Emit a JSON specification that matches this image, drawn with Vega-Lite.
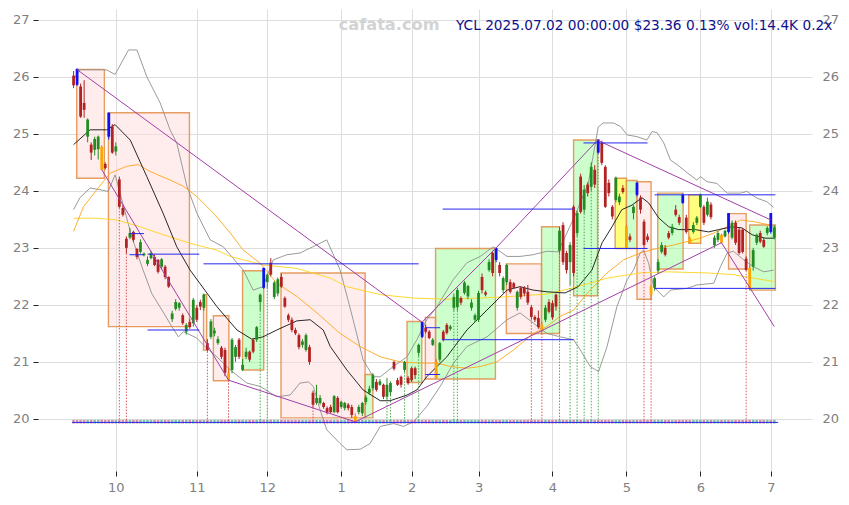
{
"$schema":"https://vega.github.io/schema/vega-lite/v6.json",
"width":774,"height":462,
"autosize":{"type":"none"},
"padding":{"left":38,"top":9,"right":37,"bottom":34},
"config":{"view":{"stroke":null},"font":"DejaVu Sans","scale":{"continuousPadding":0}},
"datasets":{
"candles":[
{"i":0,"k":"down","o":26.02,"c":25.85,"h":26.10,"l":25.80},
{"i":1,"k":"hi","o":26.14,"c":25.86,"h":26.14,"l":25.84},
{"i":2,"k":"down","o":25.83,"c":25.30,"h":25.88,"l":25.28},
{"i":3,"k":"down","o":25.54,"c":25.42,"h":25.94,"l":25.28},
{"i":4,"k":"up","o":24.95,"c":25.25,"h":25.27,"l":24.85},
{"i":5,"k":"down","o":24.81,"c":24.67,"h":24.85,"l":24.54},
{"i":6,"k":"up","o":24.72,"c":24.91,"h":24.95,"l":24.62},
{"i":7,"k":"up","o":24.73,"c":24.95,"h":24.97,"l":24.55},
{"i":8,"k":"lo","o":24.77,"c":24.37,"h":24.80,"l":24.37},
{"i":9,"k":"down","o":24.47,"c":24.40,"h":24.50,"l":24.37},
{"i":10,"k":"hi","o":25.37,"c":24.95,"h":25.37,"l":24.90},
{"i":11,"k":"down","o":25.13,"c":24.67,"h":25.17,"l":24.65},
{"i":12,"k":"up","o":24.69,"c":24.78,"h":24.85,"l":24.62},
{"i":13,"k":"down","o":24.20,"c":23.72,"h":24.25,"l":23.70},
{"i":14,"k":"down","o":23.70,"c":23.58,"h":23.75,"l":23.55},
{"i":15,"k":"down","o":23.16,"c":23.00,"h":23.20,"l":22.90},
{"i":16,"k":"up","o":23.18,"c":23.26,"h":23.35,"l":23.15},
{"i":17,"k":"down","o":23.28,"c":23.14,"h":23.30,"l":23.10},
{"i":18,"k":"down","o":22.98,"c":22.84,"h":23.00,"l":22.80},
{"i":19,"k":"up","o":22.93,"c":23.10,"h":23.15,"l":22.90},
{"i":20,"k":"up","o":22.87,"c":22.90,"h":22.92,"l":22.85},
{"i":21,"k":"up","o":22.72,"c":22.79,"h":22.85,"l":22.68},
{"i":22,"k":"up","o":22.82,"c":22.91,"h":22.95,"l":22.80},
{"i":23,"k":"down","o":22.84,"c":22.70,"h":22.88,"l":22.68},
{"i":24,"k":"down","o":22.79,"c":22.58,"h":22.80,"l":22.55},
{"i":25,"k":"up","o":22.67,"c":22.80,"h":22.82,"l":22.62},
{"i":26,"k":"down","o":22.67,"c":22.49,"h":22.70,"l":22.45},
{"i":27,"k":"down","o":22.49,"c":22.32,"h":22.50,"l":22.30},
{"i":28,"k":"up","o":21.75,"c":21.85,"h":21.90,"l":21.70},
{"i":29,"k":"up","o":21.93,"c":22.05,"h":22.10,"l":21.90},
{"i":30,"k":"up","o":21.95,"c":22.03,"h":22.05,"l":21.90},
{"i":31,"k":"down","o":21.82,"c":21.68,"h":21.85,"l":21.65},
{"i":32,"k":"up","o":21.53,"c":21.65,"h":21.68,"l":21.48},
{"i":33,"k":"down","o":21.70,"c":21.61,"h":21.75,"l":21.58},
{"i":34,"k":"up","o":21.68,"c":22.09,"h":22.12,"l":21.62},
{"i":35,"k":"down","o":21.95,"c":21.74,"h":22.00,"l":21.70},
{"i":36,"k":"down","o":22.05,"c":21.97,"h":22.09,"l":21.91},
{"i":37,"k":"up","o":21.95,"c":22.18,"h":22.20,"l":21.90},
{"i":38,"k":"down","o":21.33,"c":21.21,"h":21.40,"l":21.18},
{"i":39,"k":"up","o":21.44,"c":21.71,"h":21.75,"l":21.40},
{"i":40,"k":"up","o":21.50,"c":21.55,"h":21.60,"l":21.45},
{"i":41,"k":"up","o":21.33,"c":21.40,"h":21.45,"l":21.30},
{"i":42,"k":"down","o":21.25,"c":21.09,"h":21.28,"l":21.05},
{"i":43,"k":"down","o":21.21,"c":20.81,"h":21.25,"l":20.75},
{"i":44,"k":"lo","o":20.81,"c":20.68,"h":20.90,"l":20.68},
{"i":45,"k":"up","o":20.86,"c":21.39,"h":21.42,"l":20.80},
{"i":46,"k":"up","o":21.09,"c":21.26,"h":21.30,"l":21.00},
{"i":47,"k":"down","o":21.39,"c":21.09,"h":21.42,"l":21.05},
{"i":48,"k":"up","o":20.86,"c":20.95,"h":21.05,"l":20.84},
{"i":49,"k":"up","o":21.09,"c":21.18,"h":21.25,"l":21.05},
{"i":50,"k":"down","o":21.18,"c":21.04,"h":21.20,"l":21.00},
{"i":51,"k":"down","o":21.39,"c":21.18,"h":21.42,"l":21.15},
{"i":52,"k":"up","o":21.39,"c":21.61,"h":21.63,"l":21.35},
{"i":53,"k":"up","o":22.05,"c":22.18,"h":22.20,"l":21.90},
{"i":54,"k":"hi","o":22.65,"c":22.30,"h":22.65,"l":22.28},
{"i":55,"k":"up","o":22.40,"c":22.53,"h":22.55,"l":22.30},
{"i":56,"k":"down","o":22.74,"c":22.53,"h":22.82,"l":22.50},
{"i":57,"k":"up","o":22.14,"c":22.39,"h":22.42,"l":22.10},
{"i":58,"k":"up","o":22.20,"c":22.45,"h":22.48,"l":22.15},
{"i":59,"k":"down","o":22.49,"c":22.32,"h":22.55,"l":22.30},
{"i":60,"k":"down","o":22.12,"c":21.97,"h":22.15,"l":21.95},
{"i":61,"k":"down","o":21.82,"c":21.74,"h":21.85,"l":21.70},
{"i":62,"k":"down","o":21.74,"c":21.56,"h":21.78,"l":21.52},
{"i":63,"k":"down","o":21.56,"c":21.50,"h":21.60,"l":21.47},
{"i":64,"k":"down","o":21.47,"c":21.26,"h":21.50,"l":21.22},
{"i":65,"k":"up","o":21.30,"c":21.36,"h":21.40,"l":21.25},
{"i":66,"k":"up","o":21.21,"c":21.47,"h":21.50,"l":21.18},
{"i":67,"k":"down","o":21.26,"c":21.00,"h":21.30,"l":20.95},
{"i":68,"k":"down","o":20.46,"c":20.25,"h":20.50,"l":20.20},
{"i":69,"k":"up","o":20.28,"c":20.37,"h":20.60,"l":20.25},
{"i":70,"k":"up","o":20.28,"c":20.37,"h":20.42,"l":20.25},
{"i":71,"k":"down","o":20.28,"c":20.21,"h":20.30,"l":20.18},
{"i":72,"k":"down","o":20.19,"c":20.11,"h":20.22,"l":20.08},
{"i":73,"k":"down","o":20.21,"c":20.12,"h":20.25,"l":20.10},
{"i":74,"k":"up","o":20.12,"c":20.40,"h":20.42,"l":20.10},
{"i":75,"k":"down","o":20.37,"c":20.12,"h":20.40,"l":20.10},
{"i":76,"k":"up","o":20.21,"c":20.30,"h":20.32,"l":20.18},
{"i":77,"k":"up","o":20.19,"c":20.28,"h":20.30,"l":20.15},
{"i":78,"k":"down","o":20.25,"c":20.19,"h":20.28,"l":20.15},
{"i":79,"k":"down","o":20.21,"c":20.07,"h":20.25,"l":20.02},
{"i":80,"k":"lo","o":20.05,"c":19.95,"h":20.10,"l":19.95},
{"i":81,"k":"up","o":20.12,"c":20.21,"h":20.25,"l":20.08},
{"i":82,"k":"up","o":20.10,"c":20.28,"h":20.30,"l":20.05},
{"i":83,"k":"up","o":20.30,"c":20.38,"h":20.42,"l":20.25},
{"i":84,"k":"up","o":20.46,"c":20.53,"h":20.58,"l":20.42},
{"i":85,"k":"up","o":20.54,"c":20.77,"h":20.80,"l":20.50},
{"i":86,"k":"down","o":20.65,"c":20.51,"h":20.70,"l":20.48},
{"i":87,"k":"up","o":20.60,"c":20.66,"h":20.70,"l":20.58},
{"i":88,"k":"down","o":20.60,"c":20.39,"h":20.62,"l":20.35},
{"i":89,"k":"up","o":20.39,"c":20.60,"h":20.72,"l":20.35},
{"i":90,"k":"up","o":20.47,"c":20.63,"h":20.66,"l":20.42},
{"i":91,"k":"down","o":21.00,"c":20.88,"h":21.02,"l":20.85},
{"i":92,"k":"down","o":20.68,"c":20.60,"h":20.72,"l":20.58},
{"i":93,"k":"down","o":20.74,"c":20.60,"h":20.76,"l":20.55},
{"i":94,"k":"up","o":20.86,"c":21.00,"h":21.02,"l":20.82},
{"i":95,"k":"down","o":20.72,"c":20.63,"h":20.75,"l":20.60},
{"i":96,"k":"down","o":20.89,"c":20.68,"h":20.92,"l":20.65},
{"i":97,"k":"down","o":20.89,"c":20.77,"h":20.92,"l":20.70},
{"i":98,"k":"up","o":21.16,"c":21.30,"h":21.32,"l":21.10},
{"i":99,"k":"hi","o":21.70,"c":21.44,"h":21.70,"l":21.42},
{"i":100,"k":"down","o":21.60,"c":21.53,"h":21.65,"l":21.50},
{"i":101,"k":"down","o":21.53,"c":21.42,"h":21.56,"l":21.40},
{"i":102,"k":"up","o":21.30,"c":21.39,"h":21.42,"l":21.28},
{"i":103,"k":"lo","o":21.00,"c":20.72,"h":21.05,"l":20.72},
{"i":104,"k":"up","o":21.04,"c":21.33,"h":21.35,"l":21.00},
{"i":105,"k":"down","o":21.53,"c":21.39,"h":21.56,"l":21.36},
{"i":106,"k":"down","o":21.65,"c":21.51,"h":21.68,"l":21.48},
{"i":107,"k":"up","o":21.58,"c":21.62,"h":21.65,"l":21.55},
{"i":108,"k":"up","o":21.95,"c":22.14,"h":22.20,"l":21.90},
{"i":109,"k":"up","o":21.96,"c":22.26,"h":22.30,"l":21.90},
{"i":110,"k":"down","o":22.12,"c":22.04,"h":22.15,"l":22.00},
{"i":111,"k":"up","o":22.21,"c":22.39,"h":22.42,"l":22.18},
{"i":112,"k":"up","o":22.15,"c":22.33,"h":22.35,"l":22.10},
{"i":113,"k":"up","o":21.95,"c":22.04,"h":22.10,"l":21.90},
{"i":114,"k":"up","o":21.74,"c":21.82,"h":21.85,"l":21.70},
{"i":115,"k":"up","o":21.74,"c":22.21,"h":22.25,"l":21.70},
{"i":116,"k":"down","o":22.49,"c":22.26,"h":22.55,"l":22.20},
{"i":117,"k":"down","o":22.22,"c":22.18,"h":22.25,"l":22.15},
{"i":118,"k":"up","o":22.61,"c":22.75,"h":22.80,"l":22.58},
{"i":119,"k":"down","o":22.91,"c":22.56,"h":22.95,"l":22.50},
{"i":120,"k":"hi","o":23.00,"c":22.79,"h":23.00,"l":22.75},
{"i":121,"k":"down","o":22.70,"c":22.56,"h":22.75,"l":22.50},
{"i":122,"k":"up","o":22.26,"c":22.47,"h":22.50,"l":22.20},
{"i":123,"k":"up","o":22.40,"c":22.70,"h":22.72,"l":22.35},
{"i":124,"k":"down","o":22.40,"c":22.23,"h":22.45,"l":22.20},
{"i":125,"k":"down","o":22.38,"c":22.30,"h":22.40,"l":22.28},
{"i":126,"k":"up","o":21.95,"c":22.23,"h":22.25,"l":21.90},
{"i":127,"k":"down","o":22.30,"c":22.14,"h":22.32,"l":22.10},
{"i":128,"k":"down","o":22.30,"c":22.20,"h":22.33,"l":22.15},
{"i":129,"k":"down","o":22.23,"c":22.04,"h":22.35,"l":22.00},
{"i":130,"k":"down","o":21.96,"c":21.79,"h":22.00,"l":21.75},
{"i":131,"k":"down","o":21.79,"c":21.74,"h":21.82,"l":21.70},
{"i":132,"k":"down","o":21.77,"c":21.61,"h":21.90,"l":21.58},
{"i":133,"k":"lo","o":21.65,"c":21.56,"h":21.70,"l":21.55},
{"i":134,"k":"up","o":21.74,"c":21.95,"h":22.00,"l":21.70},
{"i":135,"k":"down","o":22.05,"c":21.88,"h":22.10,"l":21.85},
{"i":136,"k":"down","o":22.03,"c":21.78,"h":22.08,"l":21.74},
{"i":137,"k":"down","o":22.18,"c":21.97,"h":22.20,"l":21.90},
{"i":138,"k":"up","o":22.95,"c":23.30,"h":23.37,"l":22.90},
{"i":139,"k":"down","o":23.40,"c":22.75,"h":23.45,"l":22.70},
{"i":140,"k":"down","o":22.91,"c":22.61,"h":22.95,"l":22.55},
{"i":141,"k":"up","o":22.75,"c":23.05,"h":23.10,"l":22.35},
{"i":142,"k":"down","o":23.72,"c":22.56,"h":23.75,"l":22.50},
{"i":143,"k":"up","o":23.26,"c":23.61,"h":23.65,"l":23.20},
{"i":144,"k":"down","o":24.25,"c":23.63,"h":24.30,"l":23.60},
{"i":145,"k":"up","o":23.67,"c":24.02,"h":24.10,"l":23.60},
{"i":146,"k":"down","o":24.11,"c":23.96,"h":24.15,"l":23.90},
{"i":147,"k":"up","o":24.07,"c":24.42,"h":24.50,"l":24.00},
{"i":148,"k":"down","o":24.37,"c":24.11,"h":24.45,"l":24.05},
{"i":149,"k":"hi","o":24.90,"c":24.67,"h":24.90,"l":24.65},
{"i":150,"k":"down","o":24.84,"c":24.49,"h":24.88,"l":24.45},
{"i":151,"k":"down","o":24.42,"c":23.72,"h":24.45,"l":23.70},
{"i":152,"k":"down","o":24.14,"c":23.96,"h":24.20,"l":23.90},
{"i":153,"k":"down","o":23.72,"c":23.55,"h":23.75,"l":23.50},
{"i":154,"k":"up","o":23.84,"c":24.23,"h":24.25,"l":23.80},
{"i":155,"k":"up","o":23.80,"c":23.90,"h":23.95,"l":23.75},
{"i":156,"k":"down","o":24.05,"c":23.98,"h":24.10,"l":23.95},
{"i":157,"k":"lo","o":23.37,"c":23.00,"h":23.40,"l":23.00},
{"i":158,"k":"down","o":23.20,"c":23.14,"h":23.25,"l":23.10},
{"i":159,"k":"up","o":23.61,"c":23.72,"h":23.75,"l":23.50},
{"i":160,"k":"hi","o":24.14,"c":23.93,"h":24.16,"l":23.90},
{"i":161,"k":"down","o":23.88,"c":23.67,"h":23.92,"l":23.60},
{"i":162,"k":"down","o":23.46,"c":23.05,"h":23.50,"l":23.00},
{"i":163,"k":"down","o":23.20,"c":23.14,"h":23.25,"l":23.10},
{"i":164,"k":"lo","o":22.32,"c":22.18,"h":22.35,"l":22.10},
{"i":165,"k":"up","o":22.30,"c":22.47,"h":22.50,"l":22.25},
{"i":166,"k":"up","o":22.60,"c":22.75,"h":22.80,"l":22.55},
{"i":167,"k":"up","o":22.93,"c":23.05,"h":23.10,"l":22.90},
{"i":168,"k":"down","o":23.00,"c":22.88,"h":23.05,"l":22.85},
{"i":169,"k":"down","o":23.26,"c":23.18,"h":23.30,"l":23.15},
{"i":170,"k":"up","o":23.26,"c":23.37,"h":23.42,"l":23.22},
{"i":171,"k":"down","o":23.67,"c":23.58,"h":23.75,"l":23.55},
{"i":172,"k":"down","o":23.54,"c":23.44,"h":23.58,"l":23.40},
{"i":173,"k":"hi","o":23.93,"c":23.79,"h":23.95,"l":23.77},
{"i":174,"k":"down","o":23.53,"c":23.28,"h":23.58,"l":23.25},
{"i":175,"k":"lo","o":23.17,"c":23.09,"h":23.20,"l":23.08},
{"i":176,"k":"up","o":23.28,"c":23.40,"h":23.45,"l":23.25},
{"i":177,"k":"up","o":23.44,"c":23.53,"h":23.56,"l":23.40},
{"i":178,"k":"up","o":23.72,"c":23.93,"h":23.95,"l":23.70},
{"i":179,"k":"down","o":23.72,"c":23.44,"h":23.75,"l":23.40},
{"i":180,"k":"up","o":23.58,"c":23.81,"h":23.88,"l":23.55},
{"i":181,"k":"down","o":23.76,"c":23.54,"h":23.80,"l":23.50},
{"i":182,"k":"up","o":23.05,"c":23.18,"h":23.22,"l":23.00},
{"i":183,"k":"up","o":23.14,"c":23.26,"h":23.30,"l":23.10},
{"i":184,"k":"lo","o":23.23,"c":23.09,"h":23.25,"l":23.08},
{"i":185,"k":"up","o":23.20,"c":23.30,"h":23.32,"l":23.18},
{"i":186,"k":"hi","o":23.61,"c":23.28,"h":23.61,"l":23.25},
{"i":187,"k":"up","o":23.18,"c":23.44,"h":23.48,"l":23.15},
{"i":188,"k":"down","o":23.44,"c":23.09,"h":23.48,"l":23.05},
{"i":189,"k":"down","o":23.32,"c":22.91,"h":23.35,"l":22.88},
{"i":190,"k":"down","o":23.32,"c":22.93,"h":23.35,"l":22.90},
{"i":191,"k":"down","o":22.81,"c":22.61,"h":22.85,"l":22.60},
{"i":192,"k":"lo","o":22.65,"c":22.28,"h":22.70,"l":22.26},
{"i":193,"k":"up","o":22.67,"c":22.96,"h":23.00,"l":22.60},
{"i":194,"k":"up","o":23.09,"c":23.23,"h":23.25,"l":23.05},
{"i":195,"k":"down","o":23.26,"c":23.11,"h":23.30,"l":23.08},
{"i":196,"k":"down","o":23.14,"c":23.02,"h":23.18,"l":23.00},
{"i":197,"k":"up","o":23.26,"c":23.35,"h":23.38,"l":23.22},
{"i":198,"k":"hi","o":23.61,"c":23.28,"h":23.61,"l":23.25},
{"i":199,"k":"up","o":23.18,"c":23.36,"h":23.40,"l":23.15}
],
"boxes":[
{"i1":0.9,"i2":8.75,"t":26.13,"b":24.22,"k":"down"},
{"i1":9.9,"i2":32.9,"t":25.37,"b":21.62,"k":"down"},
{"i1":36.9,"i2":37.8,"t":22.18,"b":21.21,"k":"down"},
{"i1":39.7,"i2":44.1,"t":21.81,"b":20.67,"k":"down"},
{"i1":48.0,"i2":54.0,"t":22.60,"b":20.86,"k":"up"},
{"i1":58.9,"i2":82.8,"t":22.56,"b":20.02,"k":"down"},
{"i1":82.8,"i2":85.0,"t":20.78,"b":20.02,"k":"up"},
{"i1":94.7,"i2":98.9,"t":21.71,"b":20.64,"k":"up"},
{"i1":99.9,"i2":102.8,"t":21.78,"b":20.70,"k":"down"},
{"i1":102.8,"i2":119.8,"t":22.99,"b":20.70,"k":"up"},
{"i1":122.9,"i2":132.9,"t":22.72,"b":21.50,"k":"down"},
{"i1":132.9,"i2":138.0,"t":23.37,"b":21.50,"k":"up"},
{"i1":142.0,"i2":148.8,"t":24.89,"b":22.16,"k":"up"},
{"i1":153.8,"i2":157.0,"t":24.22,"b":22.99,"k":"flat"},
{"i1":157.0,"i2":160.0,"t":24.18,"b":22.99,"k":"up"},
{"i1":160.0,"i2":164.0,"t":24.16,"b":22.10,"k":"down"},
{"i1":165.9,"i2":173.1,"t":23.96,"b":22.63,"k":"up"},
{"i1":174.7,"i2":178.1,"t":23.93,"b":23.08,"k":"flat"},
{"i1":186.0,"i2":191.0,"t":23.60,"b":22.63,"k":"down"},
{"i1":192.0,"i2":199.3,"t":23.40,"b":22.26,"k":"up"}
],
"ind":[
{"s":"bbu","i":0,"v":25.95},{"s":"bbu","i":1.8,"v":26.12},{"s":"bbu","i":9.4,"v":26.12},{"s":"bbu","i":11.8,"v":26.04},{"s":"bbu","i":15.6,"v":26.47},{"s":"bbu","i":18.0,"v":26.47},{"s":"bbu","i":20.8,"v":26.0},{"s":"bbu","i":24.6,"v":25.54},{"s":"bbu","i":27.4,"v":25.07},{"s":"bbu","i":29.3,"v":24.84},{"s":"bbu","i":32.2,"v":24.08},{"s":"bbu","i":35.0,"v":23.61},{"s":"bbu","i":38.8,"v":23.14},{"s":"bbu","i":42.5,"v":23.02},{"s":"bbu","i":48.2,"v":22.61},{"s":"bbu","i":51.0,"v":22.26},{"s":"bbu","i":53.8,"v":22.32},{"s":"bbu","i":56.7,"v":22.79},{"s":"bbu","i":60.6,"v":22.88},{"s":"bbu","i":64.3,"v":22.91},{"s":"bbu","i":68.0,"v":23.02},{"s":"bbu","i":71.9,"v":23.14},{"s":"bbu","i":75.7,"v":22.61},{"s":"bbu","i":79.4,"v":21.74},{"s":"bbu","i":82.2,"v":21.04},{"s":"bbu","i":85.1,"v":20.74},{"s":"bbu","i":87.1,"v":20.74},{"s":"bbu","i":90.8,"v":20.92},{"s":"bbu","i":94.7,"v":21.09},{"s":"bbu","i":97.5,"v":21.39},{"s":"bbu","i":100.3,"v":21.74},{"s":"bbu","i":103.2,"v":21.97},{"s":"bbu","i":107.8,"v":22.44},{"s":"bbu","i":111.7,"v":22.74},{"s":"bbu","i":115.5,"v":22.85},{"s":"bbu","i":119.2,"v":23.02},{"s":"bbu","i":123.1,"v":22.85},{"s":"bbu","i":126.8,"v":22.85},{"s":"bbu","i":130.5,"v":22.88},{"s":"bbu","i":134.4,"v":22.94},{"s":"bbu","i":137.6,"v":22.93},{"s":"bbu","i":142.5,"v":23.58},{"s":"bbu","i":146.2,"v":24.14},{"s":"bbu","i":149.0,"v":25.12},{"s":"bbu","i":150.4,"v":25.19},{"s":"bbu","i":153.3,"v":25.19},{"s":"bbu","i":155.3,"v":25.13},{"s":"bbu","i":157.2,"v":24.98},{"s":"bbu","i":160.0,"v":24.95},{"s":"bbu","i":162.8,"v":24.89},{"s":"bbu","i":164.3,"v":25.04},{"s":"bbu","i":165.7,"v":25.02},{"s":"bbu","i":167.6,"v":24.84},{"s":"bbu","i":169.5,"v":24.54},{"s":"bbu","i":171.4,"v":24.46},{"s":"bbu","i":174.2,"v":24.32},{"s":"bbu","i":177.0,"v":24.19},{"s":"bbu","i":178.0,"v":24.25},{"s":"bbu","i":179.9,"v":24.16},{"s":"bbu","i":182.7,"v":24.13},{"s":"bbu","i":185.6,"v":23.96},{"s":"bbu","i":189.4,"v":23.96},{"s":"bbu","i":191.2,"v":23.99},{"s":"bbu","i":194.1,"v":23.87},{"s":"bbu","i":196.9,"v":23.81},{"s":"bbu","i":198.8,"v":23.71},
{"s":"bbl","i":0,"v":23.67},{"s":"bbl","i":1.8,"v":23.88},{"s":"bbl","i":4.7,"v":24.05},{"s":"bbl","i":7.5,"v":24.02},{"s":"bbl","i":9.8,"v":23.99},{"s":"bbl","i":11.8,"v":24.28},{"s":"bbl","i":13.2,"v":23.96},{"s":"bbl","i":16.5,"v":23.2},{"s":"bbl","i":19.4,"v":22.67},{"s":"bbl","i":22.2,"v":22.2},{"s":"bbl","i":25.1,"v":21.91},{"s":"bbl","i":27.9,"v":21.62},{"s":"bbl","i":29.8,"v":21.44},{"s":"bbl","i":31.2,"v":21.53},{"s":"bbl","i":35.0,"v":21.42},{"s":"bbl","i":37.8,"v":21.24},{"s":"bbl","i":40.7,"v":21.09},{"s":"bbl","i":44.5,"v":20.86},{"s":"bbl","i":49.2,"v":20.63},{"s":"bbl","i":53.0,"v":20.57},{"s":"bbl","i":57.7,"v":20.39},{"s":"bbl","i":61.5,"v":20.42},{"s":"bbl","i":64.3,"v":20.63},{"s":"bbl","i":66.7,"v":20.65},{"s":"bbl","i":68.1,"v":20.57},{"s":"bbl","i":70.0,"v":20.16},{"s":"bbl","i":71.9,"v":19.81},{"s":"bbl","i":75.7,"v":19.57},{"s":"bbl","i":77.6,"v":19.46},{"s":"bbl","i":81.4,"v":19.47},{"s":"bbl","i":84.2,"v":19.57},{"s":"bbl","i":87.1,"v":19.87},{"s":"bbl","i":90.9,"v":19.92},{"s":"bbl","i":93.7,"v":19.87},{"s":"bbl","i":96.5,"v":19.95},{"s":"bbl","i":100.3,"v":20.22},{"s":"bbl","i":104.1,"v":20.57},{"s":"bbl","i":107.9,"v":20.98},{"s":"bbl","i":111.7,"v":21.27},{"s":"bbl","i":117.4,"v":21.44},{"s":"bbl","i":123.1,"v":21.74},{"s":"bbl","i":126.8,"v":21.86},{"s":"bbl","i":130.6,"v":21.68},{"s":"bbl","i":134.4,"v":21.5},{"s":"bbl","i":138.2,"v":21.44},{"s":"bbl","i":142.0,"v":21.39},{"s":"bbl","i":143.9,"v":21.21},{"s":"bbl","i":146.7,"v":20.92},{"s":"bbl","i":149.1,"v":20.83},{"s":"bbl","i":151.5,"v":21.27},{"s":"bbl","i":154.3,"v":21.97},{"s":"bbl","i":157.2,"v":22.44},{"s":"bbl","i":159.0,"v":22.61},{"s":"bbl","i":160.9,"v":22.91},{"s":"bbl","i":161.9,"v":22.96},{"s":"bbl","i":163.3,"v":22.73},{"s":"bbl","i":164.7,"v":22.32},{"s":"bbl","i":167.6,"v":22.14},{"s":"bbl","i":169.5,"v":22.26},{"s":"bbl","i":174.2,"v":22.29},{"s":"bbl","i":177.0,"v":22.35},{"s":"bbl","i":181.8,"v":22.38},{"s":"bbl","i":183.7,"v":22.67},{"s":"bbl","i":185.6,"v":22.91},{"s":"bbl","i":187.4,"v":22.94},{"s":"bbl","i":190.3,"v":22.79},{"s":"bbl","i":193.1,"v":22.67},{"s":"bbl","i":196.0,"v":22.58},{"s":"bbl","i":198.8,"v":22.61},
{"s":"ma100","i":0,"v":23.52},{"s":"ma100","i":6.6,"v":23.52},{"s":"ma100","i":12.3,"v":23.49},{"s":"ma100","i":18.9,"v":23.37},{"s":"ma100","i":25.5,"v":23.23},{"s":"ma100","i":33.1,"v":23.08},{"s":"ma100","i":40.7,"v":22.96},{"s":"ma100","i":44.5,"v":22.85},{"s":"ma100","i":53.9,"v":22.7},{"s":"ma100","i":63.4,"v":22.64},{"s":"ma100","i":72.9,"v":22.47},{"s":"ma100","i":77.6,"v":22.32},{"s":"ma100","i":87.1,"v":22.18},{"s":"ma100","i":96.5,"v":22.12},{"s":"ma100","i":106.0,"v":22.1},{"s":"ma100","i":115.5,"v":22.12},{"s":"ma100","i":124.9,"v":22.15},{"s":"ma100","i":134.4,"v":22.19},{"s":"ma100","i":142.0,"v":22.3},{"s":"ma100","i":151.5,"v":22.47},{"s":"ma100","i":160.9,"v":22.56},{"s":"ma100","i":168.5,"v":22.58},{"s":"ma100","i":179.9,"v":22.56},{"s":"ma100","i":187.4,"v":22.53},{"s":"ma100","i":193.1,"v":22.47},{"s":"ma100","i":198.8,"v":22.41},
{"s":"ma50","i":0,"v":23.29},{"s":"ma50","i":2.8,"v":23.72},{"s":"ma50","i":6.6,"v":24.02},{"s":"ma50","i":10.4,"v":24.31},{"s":"ma50","i":15.1,"v":24.43},{"s":"ma50","i":18.4,"v":24.46},{"s":"ma50","i":21.7,"v":24.34},{"s":"ma50","i":27.4,"v":24.19},{"s":"ma50","i":31.2,"v":24.08},{"s":"ma50","i":35.0,"v":23.9},{"s":"ma50","i":39.7,"v":23.61},{"s":"ma50","i":44.5,"v":23.26},{"s":"ma50","i":48.2,"v":22.96},{"s":"ma50","i":53.0,"v":22.73},{"s":"ma50","i":57.7,"v":22.38},{"s":"ma50","i":63.4,"v":22.15},{"s":"ma50","i":69.1,"v":21.86},{"s":"ma50","i":75.7,"v":21.5},{"s":"ma50","i":81.4,"v":21.27},{"s":"ma50","i":87.1,"v":21.09},{"s":"ma50","i":92.8,"v":21.0},{"s":"ma50","i":98.4,"v":20.98},{"s":"ma50","i":103.2,"v":20.98},{"s":"ma50","i":107.0,"v":20.92},{"s":"ma50","i":111.7,"v":20.89},{"s":"ma50","i":115.5,"v":20.92},{"s":"ma50","i":120.2,"v":21.0},{"s":"ma50","i":124.9,"v":21.21},{"s":"ma50","i":130.6,"v":21.5},{"s":"ma50","i":134.4,"v":21.62},{"s":"ma50","i":138.2,"v":21.8},{"s":"ma50","i":142.0,"v":21.91},{"s":"ma50","i":146.7,"v":22.26},{"s":"ma50","i":151.5,"v":22.56},{"s":"ma50","i":156.2,"v":22.79},{"s":"ma50","i":160.9,"v":22.91},{"s":"ma50","i":165.7,"v":22.99},{"s":"ma50","i":170.4,"v":23.05},{"s":"ma50","i":178.0,"v":23.17},{"s":"ma50","i":181.8,"v":23.26},{"s":"ma50","i":185.6,"v":23.37},{"s":"ma50","i":189.4,"v":23.49},{"s":"ma50","i":193.1,"v":23.46},{"s":"ma50","i":197.9,"v":23.4},{"s":"ma50","i":198.8,"v":23.37},
{"s":"ma20","i":0,"v":24.81},{"s":"ma20","i":4.7,"v":25.07},{"s":"ma20","i":9.4,"v":25.07},{"s":"ma20","i":11.8,"v":25.16},{"s":"ma20","i":16.1,"v":24.89},{"s":"ma20","i":20.8,"v":24.25},{"s":"ma20","i":25.4,"v":23.61},{"s":"ma20","i":29.3,"v":23.02},{"s":"ma20","i":33.1,"v":22.61},{"s":"ma20","i":40.7,"v":21.97},{"s":"ma20","i":46.4,"v":21.56},{"s":"ma20","i":50.6,"v":21.40},{"s":"ma20","i":53.8,"v":21.44},{"s":"ma20","i":57.7,"v":21.56},{"s":"ma20","i":63.4,"v":21.72},{"s":"ma20","i":67.2,"v":21.74},{"s":"ma20","i":70.9,"v":21.56},{"s":"ma20","i":72.9,"v":21.27},{"s":"ma20","i":77.6,"v":20.86},{"s":"ma20","i":82.2,"v":20.51},{"s":"ma20","i":87.1,"v":20.32},{"s":"ma20","i":89.9,"v":20.32},{"s":"ma20","i":94.7,"v":20.42},{"s":"ma20","i":97.5,"v":20.51},{"s":"ma20","i":100.3,"v":20.74},{"s":"ma20","i":103.2,"v":20.92},{"s":"ma20","i":106.0,"v":21.09},{"s":"ma20","i":111.7,"v":21.56},{"s":"ma20","i":117.4,"v":21.91},{"s":"ma20","i":123.1,"v":22.26},{"s":"ma20","i":126.8,"v":22.32},{"s":"ma20","i":130.5,"v":22.26},{"s":"ma20","i":134.4,"v":22.23},{"s":"ma20","i":139.6,"v":22.21},{"s":"ma20","i":143.3,"v":22.32},{"s":"ma20","i":147.2,"v":22.61},{"s":"ma20","i":150.1,"v":23.09},{"s":"ma20","i":152.9,"v":23.37},{"s":"ma20","i":155.7,"v":23.67},{"s":"ma20","i":158.6,"v":23.75},{"s":"ma20","i":161.4,"v":23.88},{"s":"ma20","i":163.3,"v":23.79},{"s":"ma20","i":166.1,"v":23.53},{"s":"ma20","i":169.0,"v":23.37},{"s":"ma20","i":171.8,"v":23.32},{"s":"ma20","i":176.6,"v":23.32},{"s":"ma20","i":180.3,"v":23.28},{"s":"ma20","i":183.2,"v":23.32},{"s":"ma20","i":187.0,"v":23.37},{"s":"ma20","i":189.8,"v":23.35},{"s":"ma20","i":192.7,"v":23.23},{"s":"ma20","i":196.4,"v":23.17},{"s":"ma20","i":199.0,"v":23.17}
],
"trend":[
{"id":"A","i":0.9,"v":26.13},{"id":"A","i":98.9,"v":21.70},
{"id":"B","i":8,"v":24.37},{"id":"B","i":44,"v":20.68},
{"id":"C","i":44,"v":20.68},{"id":"C","i":80,"v":19.95},
{"id":"F","i":80,"v":19.95},{"id":"F","i":184,"v":23.09},
{"id":"E1","i":99,"v":21.70},{"id":"E1","i":120,"v":23.00},
{"id":"E2","i":120,"v":23.00},{"id":"E2","i":149,"v":24.90},
{"id":"H","i":149,"v":24.88},{"id":"H","i":198,"v":23.49},
{"id":"I","i":184,"v":23.09},{"id":"I","i":199,"v":21.62}
],
"hlines":[
{"i1":15.9,"i2":20.0,"v":23.25},
{"i1":15.9,"i2":20.0,"v":22.88},
{"i1":21.0,"i2":35.7,"v":22.89},
{"i1":21.0,"i2":35.7,"v":21.56},
{"i1":36.9,"i2":98.0,"v":22.72},
{"i1":99.9,"i2":104.1,"v":21.60},
{"i1":99.9,"i2":104.1,"v":20.78},
{"i1":104.6,"i2":142.0,"v":21.39},
{"i1":104.8,"i2":142.0,"v":23.68},
{"i1":144.8,"i2":163.0,"v":24.84},
{"i1":144.8,"i2":163.0,"v":22.99},
{"i1":165.0,"i2":199.3,"v":23.93},
{"i1":165.0,"i2":199.3,"v":22.29},
{"i1":-0.4,"i2":200.1,"v":19.94}
],
"dots":[
{"i":13,"t":23.70,"k":"down"},{"i":15,"t":22.90,"k":"down"},{"i":38,"t":21.18,"k":"down"},{"i":44,"t":20.68,"k":"down"},
{"i":53,"t":21.90,"k":"up"},{"i":55,"t":22.30,"k":"up"},{"i":68,"t":20.20,"k":"down"},{"i":80,"t":19.98,"k":"down"},
{"i":89,"t":20.35,"k":"up"},{"i":90,"t":20.42,"k":"up"},{"i":94,"t":20.82,"k":"up"},{"i":98,"t":21.10,"k":"up"},
{"i":108,"t":21.90,"k":"up"},{"i":109,"t":21.90,"k":"up"},{"i":130,"t":21.75,"k":"down"},{"i":133,"t":21.55,"k":"down"},
{"i":138,"t":22.90,"k":"up"},{"i":141,"t":22.35,"k":"up"},{"i":143,"t":23.20,"k":"up"},{"i":145,"t":23.60,"k":"up"},
{"i":147,"t":24.00,"k":"up"},{"i":149,"t":24.65,"k":"up"},{"i":162,"t":23.00,"k":"down"},{"i":164,"t":22.10,"k":"down"},
{"i":191,"t":22.60,"k":"down"}
]
},
"layer":[
{"data":{"name":"boxes"},
 "mark":{"type":"rect","fillOpacity":0.5,"stroke":"#E39250","strokeWidth":1.4,"strokeOpacity":0.9},
 "encoding":{
  "x":{"field":"i1","type":"quantitative","scale":{"domain":[-10.1,209.7],"nice":false,"zero":false,"padding":0},
   "axis":{"values":[12,35,55,76,96,115,136,157,178,198],
    "labelExpr":"datum.value==12?'10':datum.value==35?'11':datum.value==55?'12':datum.value==76?'1':datum.value==96?'2':datum.value==115?'3':datum.value==136?'4':datum.value==157?'5':datum.value==178?'6':'7'",
    "grid":true,"gridColor":"#DDDDDD","gridWidth":1,"domain":false,"ticks":true,"tickColor":"#222222","tickSize":5,
    "labelColor":"#808080","labelFontSize":13,"labelFont":"DejaVu Sans","labelPadding":5,"title":null}},
  "x2":{"field":"i2"},
  "y":{"field":"t","type":"quantitative","scale":{"domain":[19.088,27.188],"nice":false,"zero":false},
   "axis":{"orient":"left","values":[20,21,22,23,24,25,26,27],"grid":true,"gridColor":"#DDDDDD","gridWidth":1,"domain":false,
    "tickColor":"#222222","tickSize":5,"labelColor":"#808080","labelFontSize":13,"labelFont":"DejaVu Sans","labelPadding":4,"title":null}},
  "y2":{"field":"b"},
  "fill":{"field":"k","type":"nominal","scale":{"domain":["down","up","flat"],"range":["#FFDCDC","#99FF99","#FFFF00"]},"legend":null}
 }},
{"data":{"name":"ind"},
 "mark":{"type":"line","strokeWidth":0.9},
 "encoding":{
  "x":{"field":"i","type":"quantitative","scale":{"domain":[-10.1,209.7],"nice":false,"zero":false,"padding":0},"axis":null},
  "y":{"field":"v","type":"quantitative","scale":{"domain":[19.088,27.188],"nice":false,"zero":false},"axis":null},
  "detail":{"field":"s"},
  "color":{"field":"s","type":"nominal","scale":{"domain":["bbu","bbl","ma100","ma50","ma20"],"range":["#8F8F8F","#8F8F8F","#FFD21A","#FFA51A","#111111"]},"legend":null}
 }},
{"data":{"name":"dots"},
 "mark":{"type":"rule","strokeWidth":1,"strokeDash":[1.5,1.5],"opacity":0.9},
 "encoding":{
  "x":{"field":"i","type":"quantitative","scale":{"domain":[-10.1,209.7],"nice":false,"zero":false,"padding":0},"axis":null},
  "y":{"field":"t","type":"quantitative","scale":{"domain":[19.088,27.188],"nice":false,"zero":false},"axis":null},
  "y2":{"datum":19.95},
  "color":{"field":"k","type":"nominal","scale":{"domain":["down","up"],"range":["#D04848","#3FA03F"]},"legend":null}
 }},
{"data":{"name":"candles"},
 "mark":{"type":"bar","size":2.6,"opacity":0.75},
 "encoding":{
  "x":{"field":"i","type":"quantitative","scale":{"domain":[-10.1,209.7],"nice":false,"zero":false,"padding":0},"axis":null},
  "y":{"datum":19.985,"type":"quantitative","scale":{"domain":[19.088,27.188],"nice":false,"zero":false},"axis":null},
  "y2":{"datum":19.92},
  "color":{"field":"k","type":"nominal","scale":{"domain":["down","up","hi","lo"],"range":["#C8708A","#5FB08A","#C8708A","#C8708A"]},"legend":null}
 }},
{"data":{"name":"candles"},
 "mark":{"type":"rule","strokeWidth":1},
 "encoding":{
  "x":{"field":"i","type":"quantitative","scale":{"domain":[-10.1,209.7],"nice":false,"zero":false,"padding":0},"axis":null},
  "y":{"field":"l","type":"quantitative","scale":{"domain":[19.088,27.188],"nice":false,"zero":false},
   "axis":{"orient":"right","values":[20,21,22,23,24,25,26,27],"grid":false,"domain":false,"ticks":false,
    "labelColor":"#808080","labelFontSize":13,"labelFont":"DejaVu Sans","labelPadding":10,"title":null}},
  "y2":{"field":"h"},
  "color":{"field":"k","type":"nominal","scale":{"domain":["down","up","hi","lo"],"range":["#B22222","#228B22","#1010F0","#E07020"]},"legend":null}
 }},
{"data":{"name":"candles"},
 "mark":{"type":"bar","size":2.8},
 "encoding":{
  "x":{"field":"i","type":"quantitative","scale":{"domain":[-10.1,209.7],"nice":false,"zero":false,"padding":0},"axis":null},
  "y":{"field":"o","type":"quantitative","scale":{"domain":[19.088,27.188],"nice":false,"zero":false},"axis":null},
  "y2":{"field":"c"},
  "color":{"field":"k","type":"nominal","scale":{"domain":["down","up","hi","lo"],"range":["#B22222","#228B22","#1010F0","#FFA500"]},"legend":null}
 }},
{"data":{"name":"trend"},
 "mark":{"type":"line","strokeWidth":1,"color":"#A33FA8"},
 "encoding":{
  "x":{"field":"i","type":"quantitative","scale":{"domain":[-10.1,209.7],"nice":false,"zero":false,"padding":0},"axis":null},
  "y":{"field":"v","type":"quantitative","scale":{"domain":[19.088,27.188],"nice":false,"zero":false},"axis":null},
  "detail":{"field":"id"}
 }},
{"data":{"name":"hlines"},
 "mark":{"type":"rule","strokeWidth":1,"color":"#2525F0"},
 "encoding":{
  "x":{"field":"i1","type":"quantitative","scale":{"domain":[-10.1,209.7],"nice":false,"zero":false,"padding":0},"axis":null},
  "x2":{"field":"i2"},
  "y":{"field":"v","type":"quantitative","scale":{"domain":[19.088,27.188],"nice":false,"zero":false},"axis":null}
 }},
{"data":{"values":[{"t":"cafata.com","i":89.6,"v":26.9}]},
 "mark":{"type":"text","font":"DejaVu Sans","fontWeight":"bold","fontSize":16.2,"color":"#D3D3D3","align":"center","baseline":"middle"},
 "encoding":{
  "x":{"field":"i","type":"quantitative","scale":{"domain":[-10.1,209.7],"nice":false,"zero":false,"padding":0},"axis":null},
  "y":{"field":"v","type":"quantitative","scale":{"domain":[19.088,27.188],"nice":false,"zero":false},"axis":null},
  "text":{"field":"t"}
 }},
{"data":{"values":[{"t":"YCL 2025.07.02 00:00:00 $23.36 0.13% vol:14.4K 0.2x","i":108.6,"v":26.895}]},
 "mark":{"type":"text","font":"DejaVu Sans","fontSize":13.7,"color":"#10108C","align":"left","baseline":"middle"},
 "encoding":{
  "x":{"field":"i","type":"quantitative","scale":{"domain":[-10.1,209.7],"nice":false,"zero":false,"padding":0},"axis":null},
  "y":{"field":"v","type":"quantitative","scale":{"domain":[19.088,27.188],"nice":false,"zero":false},"axis":null},
  "text":{"field":"t"}
 }}
],
"resolve":{"axis":{"x":"independent","y":"independent"},"scale":{"color":"independent","fill":"independent"}}
}
